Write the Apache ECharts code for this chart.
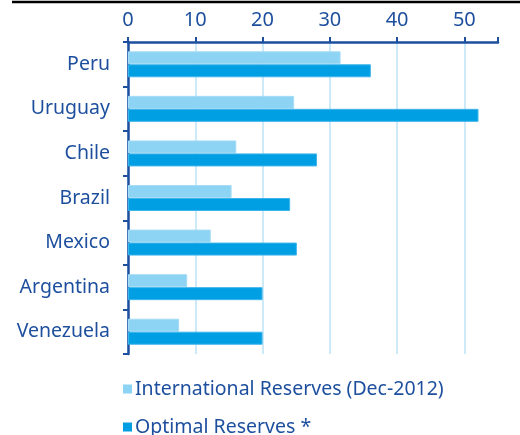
<!DOCTYPE html>
<html>
<head>
<meta charset="utf-8">
<script src="https://cdn.jsdelivr.net/npm/echarts@6/dist/echarts.min.js"></script>
<style>
  html, body { margin: 0; padding: 0; background: #fff; }
  #chart { width: 520px; height: 435px; }
</style>
</head>
<body>
<div id="chart"></div>
<script>
const countries = ['Peru', 'Uruguay', 'Chile', 'Brazil', 'Mexico', 'Argentina', 'Venezuela'];
const internationalReserves = [31.6, 24.7, 16.1, 15.4, 12.3, 8.8, 7.6];
const optimalReserves = [36.1, 52.1, 28.1, 24.1, 25.1, 20.0, 20.0];
const seriesNames = ['International Reserves (Dec-2012)', 'Optimal Reserves *'];

const navy = '#1d4f9e';
const font = 'Noto Sans';

function legendRow(name, top) {
  return {
    orient: 'vertical',
    left: 118, top: top,
    itemWidth: 9, itemHeight: 9,
    icon: 'rect',
    itemStyle: { borderWidth: 0 },
    textStyle: { color: navy, fontSize: 19.5, fontFamily: font, padding: [0, 0, 0, -2] },
    data: [name]
  };
}

const chart = echarts.init(document.getElementById('chart'));
chart.setOption({
  animation: false,
  textStyle: { fontFamily: font },
  grid: { left: 128, top: 42, right: 22, bottom: 81, containLabel: false },
  graphic: [{
    type: 'line',
    shape: { x1: 12, y1: 2, x2: 520, y2: 2 },
    style: { stroke: '#000', lineWidth: 2.5 }
  }],
  xAxis: {
    type: 'value',
    position: 'top',
    min: 0, max: 55, interval: 10,
    axisLine: { show: true, lineStyle: { color: navy, width: 2.5 } },
    axisTick: { show: true, length: 5, lineStyle: { color: navy, width: 2 } },
    axisLabel: { color: navy, fontSize: 20, margin: 12, fontFamily: font,
      formatter: v => (v % 10 === 0 ? String(v) : '') },
    splitLine: { show: true, showMaxLine: false, lineStyle: { color: '#cdeaf8', width: 2 } }
  },
  yAxis: {
    type: 'category',
    data: countries,
    inverse: true,
    axisLine: { show: true, lineStyle: { color: navy, width: 2.5 } },
    axisTick: { show: true, length: 5, lineStyle: { color: navy, width: 2 } },
    axisLabel: { color: navy, fontSize: 19.5, margin: 18, fontFamily: font }
  },
  legend: [legendRow(seriesNames[0], 374), legendRow(seriesNames[1], 412)],
  series: [
    {
      name: seriesNames[0], type: 'bar', data: internationalReserves,
      barWidth: 13, barGap: '0%',
      itemStyle: { color: '#8dd3f3', borderColor: '#a6dcf5', borderWidth: 1 }
    },
    {
      name: seriesNames[1], type: 'bar', data: optimalReserves,
      barWidth: 13, barGap: '0%',
      itemStyle: { color: '#009fe3', borderColor: '#3db5ea', borderWidth: 1 }
    }
  ]
});
</script>
</body>
</html>
